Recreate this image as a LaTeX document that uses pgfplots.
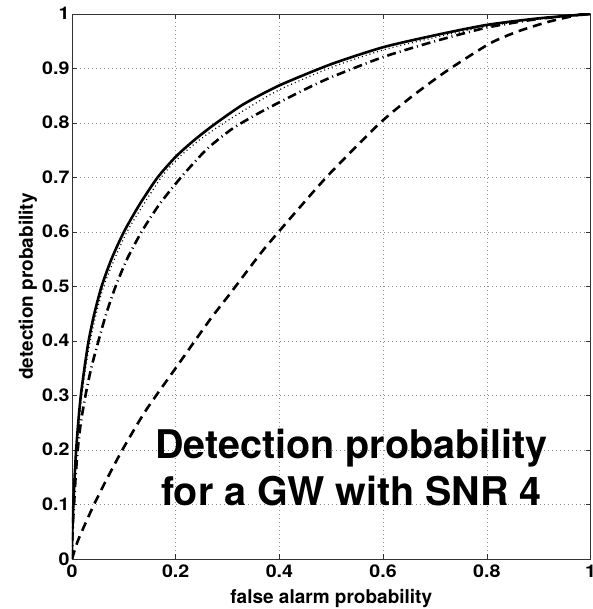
\documentclass[border=0pt]{standalone}
\usepackage{pgfplots}
\pgfplotsset{compat=1.18}
\usepackage{fontspec}
\setmainfont{TeX Gyre Heros}
\newfontfamily\tickfont{TeX Gyre Heros}[FakeStretch=1.12]
\begin{document}
\begin{tikzpicture}
\begin{axis}[
  scale only axis, width=518.5pt, height=545pt,
  at={(0pt,0pt)}, anchor=south west,
  xmin=0, xmax=1, ymin=0, ymax=1,
  xtick={0,0.2,0.4,0.6,0.8,1},
  ytick={0,0.1,0.2,0.3,0.4,0.5,0.6,0.7,0.8,0.9,1},
  xticklabels={0,0.2,0.4,0.6,0.8,1},
  yticklabels={0,0.1,0.2,0.3,0.4,0.5,0.6,0.7,0.8,0.9,1},
  xtick pos=both, ytick pos=both,
  tick align=inside, major tick length=5pt,
  tick style={black!80, line width=0.6pt},
  grid=major,
  major grid style={black!45, line width=0.6pt, dash pattern=on 0.8pt off 3.2pt},
  axis line style={black!80, line width=0.9pt},
  /pgf/number format/assume math mode=true,
  ticklabel style={font=\tickfont\bfseries\fontsize{17.5}{17.5}\selectfont},
  xticklabel style={anchor=base, yshift=-18pt},
  yticklabel style={anchor=base east, yshift=-6pt, xshift=1pt},
  xlabel={false alarm probability},
  ylabel={detection probability},
  label style={font=\bfseries\fontsize{19}{19}\selectfont},
  xlabel style={at={([yshift=-44pt]axis description cs:0.5,0)}, anchor=base},
  ylabel style={at={([xshift=-39pt]axis description cs:0,0.5)}, anchor=base, rotate=0},
]
% dashed
\addplot[black, line width=2.6pt, dash pattern=on 9pt off 6pt, smooth, tension=0.4] coordinates {
(0,0) (0.012,0.035) (0.04,0.095) (0.063,0.139) (0.097,0.2) (0.142,0.272) (0.202,0.353) (0.266,0.439) (0.305,0.487) (0.369,0.567) (0.44,0.646) (0.498,0.708) (0.594,0.80) (0.66,0.852) (0.725,0.897) (0.806,0.946) (0.86,0.968) (0.92,0.986) (0.98,0.999) (1,1)
};
% dash-dot
\addplot[black, line width=2.6pt, dash pattern=on 9pt off 4pt on 1pt off 4pt, smooth, tension=0.4] coordinates {
(0,0) (0.0005,0.03) (0.0015,0.06) (0.004,0.1) (0.007,0.15) (0.011,0.2) (0.017,0.25) (0.026,0.3) (0.037,0.35) (0.051,0.4) (0.066,0.45) (0.084,0.5) (0.106,0.55) (0.134,0.6) (0.168,0.65) (0.21,0.7) (0.26,0.752) (0.31,0.79) (0.36,0.818) (0.4,0.838) (0.45,0.862) (0.5,0.884) (0.6,0.921) (0.7,0.950) (0.8,0.975) (0.9,0.991) (1,1)
};
% dotted
\addplot[black, line width=1.2pt, dash pattern=on 1pt off 3pt, smooth, tension=0.4] coordinates {
(0,0) (0.003,0.1) (0.009,0.2) (0.019,0.3) (0.035,0.4) (0.061,0.5) (0.106,0.6) (0.172,0.7) (0.21,0.74) (0.25,0.772) (0.29,0.798) (0.34,0.828) (0.4,0.861) (0.5,0.902) (0.6,0.934) (0.7,0.957) (0.8,0.977) (0.9,0.991) (1,1)
};
% solid
\addplot[black, line width=2.6pt, smooth, tension=0.4] coordinates {
(0,0) (0.0003,0.03) (0.001,0.06) (0.0026,0.1) (0.005,0.15) (0.008,0.2) (0.012,0.25) (0.017,0.3) (0.024,0.35) (0.032,0.4) (0.043,0.45) (0.057,0.5) (0.076,0.55) (0.1,0.6) (0.13,0.65) (0.165,0.7) (0.2,0.738) (0.235,0.768) (0.274,0.797) (0.33,0.834) (0.4,0.869) (0.5,0.908) (0.6,0.939) (0.7,0.961) (0.8,0.980) (0.9,0.992) (1,1)
};
\node[anchor=base, font=\bfseries\fontsize{39.5}{40}\selectfont, inner sep=0pt] at (axis cs:0.539,0.185) {Detection probability};
\node[anchor=base, font=\bfseries\fontsize{39.5}{40}\selectfont, inner sep=0pt] at (axis cs:0.539,0.099) {for a GW with SNR 4};
\end{axis}
\pgfresetboundingbox
\path[use as bounding box] (-72pt,-50pt) rectangle (520pt,559pt);
\end{tikzpicture}
\end{document}
